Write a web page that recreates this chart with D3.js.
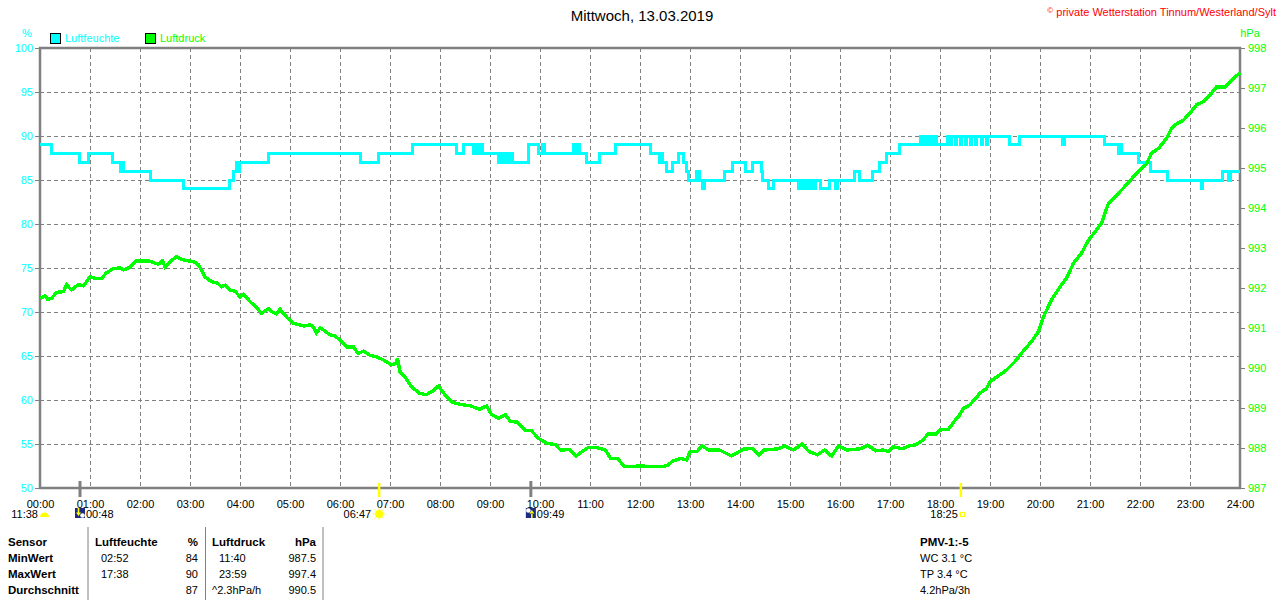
<!DOCTYPE html>
<html>
<head>
<meta charset="utf-8">
<script src="https://cdn.jsdelivr.net/npm/d3@7"></script>
<style>
  body { margin: 0; background: #fff; }
  svg { display: block; font-family: "Liberation Sans", Arial, sans-serif; }
</style>
</head>
<body>
<div id="chart"></div>
<script>
// hour ticks and axis ticks
let hourLabels = d3.range(0, 25).map(h => (h < 10 ? "0" + h : "" + h) + ":00");
let humidityTicks = [50, 55, 60, 65, 70, 75, 80, 85, 90, 95, 100];
let pressureTicks = [987, 988, 989, 990, 991, 992, 993, 994, 995, 996, 997, 998];

// Luftfeuchte (%), step changes: time in hours, value from that time on
let humidityTimes = [0, 0.23, 0.79, 0.96, 1.44, 1.6, 1.63, 1.67, 2.21, 2.87, 3.78, 3.87, 3.92, 3.94, 3.98,
  4.56, 6.41, 6.76, 7.44, 8.32, 8.46, 8.66, 8.7, 8.76, 8.79, 8.85, 9.17, 9.21, 9.26, 9.29, 9.35, 9.38, 9.44,
  9.76, 9.97, 10.05, 10.08, 10.66, 10.7, 10.75, 10.78, 10.93, 11.18, 11.51, 12.2, 12.38, 12.42, 12.44,
  12.52, 12.64, 12.77, 12.87, 12.93, 12.96, 13.12, 13.19, 13.25, 13.29, 13.69, 13.84, 14.11, 14.24,
  14.42, 14.45, 14.57, 14.66, 15.17, 15.2, 15.27, 15.3, 15.37, 15.4, 15.47, 15.5, 15.6, 15.78, 15.91,
  15.94, 16.28, 16.39, 16.64, 16.78, 16.93, 17.18, 17.61, 17.66, 17.69, 17.75, 17.78, 17.84, 17.87, 17.93,
  18.15, 18.2, 18.23, 18.3, 18.33, 18.4, 18.43, 18.5, 18.53, 18.6, 18.63, 18.7, 18.73, 18.82, 18.85, 18.92,
  18.95, 19.39, 19.58, 20.45, 20.49, 21.28, 21.57, 21.6, 21.63, 21.97, 22.2, 22.55, 23.22, 23.25, 23.64,
  23.77, 23.8, 24];
let humidityValues = [89, 88, 87, 88, 87, 86, 87, 86, 85, 84, 85, 86, 87, 86, 87,
  88, 87, 88, 89, 88, 89, 88, 89, 88, 89, 88, 87, 88, 87, 88, 87, 88, 87,
  89, 88, 89, 88, 89, 88, 89, 88, 87, 88, 89, 88, 87, 88, 87,
  86, 87, 88, 87, 86, 85, 86, 85, 84, 85, 86, 87, 86, 87,
  86, 85, 84, 85, 84, 85, 84, 85, 84, 85, 84, 85, 84, 85, 84,
  85, 86, 85, 86, 87, 88, 89, 90, 89, 90, 89, 90, 89, 90, 89,
  90, 89, 90, 89, 90, 89, 90, 89, 90, 89, 90, 89, 90, 89, 90, 89,
  90, 89, 90, 89, 90, 89, 88, 89, 88, 87, 86, 85, 84, 85, 86,
  85, 86, 86];

// Luftdruck (hPa)
let pressureTimes = [0, 0.1, 0.15, 0.23, 0.33, 0.47, 0.53, 0.63, 0.77, 0.87, 1.0, 1.1, 1.23, 1.33, 1.47,
  1.6, 1.67, 1.8, 1.93, 2.17, 2.3, 2.37, 2.45, 2.5, 2.6, 2.73, 2.87, 3.07, 3.17, 3.3, 3.43, 3.55,
  3.63, 3.7, 3.8, 3.9, 4.0, 4.07, 4.2, 4.3, 4.43, 4.57, 4.65, 4.73, 4.8, 4.83, 4.95, 5.07, 5.27,
  5.4, 5.47, 5.53, 5.6, 5.67, 5.8, 5.9, 6.0, 6.13, 6.27, 6.33, 6.37, 6.47, 6.6, 6.73, 6.87, 7.03,
  7.13, 7.15, 7.2, 7.3, 7.43, 7.59, 7.72, 7.85, 7.97, 8.1, 8.24, 8.41, 8.62, 8.79, 8.93, 9.03, 9.17,
  9.31, 9.41, 9.55, 9.69, 9.83, 9.97, 10.14, 10.31, 10.41, 10.59, 10.72, 10.97, 11.1, 11.31, 11.41,
  11.55, 11.69, 12.0, 12.41, 12.55, 12.66, 12.83, 12.93, 13.0, 13.14, 13.24, 13.38, 13.59, 13.83,
  13.93, 14.07, 14.24, 14.38, 14.48, 14.59, 14.76, 14.9, 15.07, 15.24, 15.38, 15.55, 15.69, 15.83,
  15.97, 16.14, 16.41, 16.55, 16.72, 16.86, 16.97, 17.07, 17.24, 17.38, 17.52, 17.66, 17.76, 17.93,
  18.0, 18.17, 18.28, 18.38, 18.47, 18.6, 18.8, 18.93, 19.0, 19.2, 19.33, 19.5, 19.63, 19.83, 19.97,
  20.07, 20.23, 20.43, 20.53, 20.67, 20.83, 20.97, 21.13, 21.23, 21.37, 21.57, 21.73, 21.93, 22.13,
  22.23, 22.37, 22.53, 22.63, 22.73, 22.87, 23.0, 23.13, 23.27, 23.43, 23.53, 23.7, 23.8, 23.87, 24.0];
let pressureValues = [991.74, 991.8, 991.72, 991.74, 991.89, 991.91, 992.08, 991.95, 992.09, 992.05, 992.28, 992.24, 992.24, 992.38, 992.49,
  992.5, 992.45, 992.52, 992.68, 992.68, 992.62, 992.6, 992.68, 992.53, 992.66, 992.78, 992.7, 992.66, 992.58, 992.28, 992.16, 992.12,
  992.03, 992.07, 991.95, 991.92, 991.78, 991.85, 991.66, 991.55, 991.37, 991.48, 991.4, 991.35, 991.47, 991.42, 991.25, 991.12, 991.05,
  991.08, 991.02, 990.88, 991.0, 990.95, 990.83, 990.8, 990.7, 990.53, 990.53, 990.42, 990.37, 990.42, 990.32, 990.28, 990.2, 990.08,
  990.12, 990.25, 989.91, 989.78, 989.53, 989.37, 989.33, 989.42, 989.55, 989.33, 989.14, 989.09, 989.05, 988.97, 989.05, 988.84, 988.74,
  988.83, 988.66, 988.65, 988.45, 988.43, 988.24, 988.12, 988.08, 987.95, 987.96, 987.8, 988.02, 988.02, 987.95, 987.74,
  987.74, 987.53, 987.55, 987.53, 987.56, 987.68, 987.74, 987.7, 987.91, 987.91, 988.05, 987.95, 987.95, 987.8,
  987.87, 987.97, 987.99, 987.83, 987.95, 987.96, 987.98, 988.05, 987.95, 988.1, 987.91, 987.83, 987.95, 987.8,
  988.05, 987.95, 987.98, 988.07, 987.93, 987.95, 987.91, 988.03, 987.98, 988.05, 988.08, 988.2, 988.35, 988.35,
  988.45, 988.47, 988.66, 988.8, 988.99, 989.08, 989.37, 989.49, 989.66, 989.83, 989.95, 990.16, 990.37, 990.66, 990.91,
  991.28, 991.7, 992.08, 992.24, 992.62, 992.87, 993.2, 993.45, 993.62, 994.12, 994.37, 994.58, 994.87, 995.1,
  995.37, 995.49, 995.74, 995.99, 996.1, 996.2, 996.37, 996.58, 996.66, 996.87, 997.03, 997.03, 997.16, 997.24, 997.38];

// sun / moon events below the axis
let eventTimes = [0.8, 6.783, 9.817, 18.417];
let eventLabels = ["00:48", "06:47", "09:49", "18:25"];
let eventKinds = ["moonset", "sunrise", "moonrise", "sunset"];

// statistics table
let tableRows = ["Sensor", "MinWert", "MaxWert", "Durchschnitt"];
let humidityCol = [["Luftfeuchte", "%"], ["02:52", "84"], ["17:38", "90"], ["", "87"]];
let pressureCol = [["Luftdruck", "hPa"], ["11:40", "987.5"], ["23:59", "997.4"], ["^2.3hPa/h", "990.5"]];
let extraInfo = ["PMV-1:-5", "WC 3.1 °C", "TP 3.4 °C", "4.2hPa/3h"];

function draw_chart() {
    let W = 1280, H = 600;
    let grey = "#808080", cyan = "#00ffff", green = "#00ff00";

    let svg = d3.select("#chart").append("svg")
        .attr("width", W).attr("height", H);

    let x = d3.scaleLinear().domain([0, 24]).range([40, 1240]);
    let yH = d3.scaleLinear().domain([50, 100]).range([488, 48]);
    let yP = d3.scaleLinear().domain([987, 998]).range([488, 48]);

    // title + copyright
    svg.append("text").attr("x", 642).attr("y", 21).attr("text-anchor", "middle")
        .style("font-size", "15px").text("Mittwoch, 13.03.2019");
    svg.append("text").attr("x", 1276).attr("y", 16).attr("text-anchor", "end")
        .style("font-size", "11px").attr("fill", "#ff0000")
        .html('<tspan font-size="8px" dy="-3">©</tspan><tspan dy="3"> private Wetterstation Tinnum/Westerland/Sylt</tspan>');

    // legend
    let legend = [["Luftfeuchte", cyan, 50], ["Luftdruck", green, 145]];
    legend.forEach(function (l) {
        svg.append("rect").attr("x", l[2] + 0.5).attr("y", 33.5).attr("width", 10).attr("height", 10)
            .attr("fill", l[1]).attr("stroke", "#000");
        svg.append("text").attr("x", l[2] + 15).attr("y", 42).attr("fill", l[1])
            .style("font-size", "11px").text(l[0]);
    });
    svg.append("text").attr("x", 27).attr("y", 37).attr("text-anchor", "middle")
        .attr("fill", cyan).style("font-size", "11px").text("%");
    svg.append("text").attr("x", 1250).attr("y", 37).attr("text-anchor", "middle")
        .attr("fill", green).style("font-size", "11px").text("hPa");

    // grid
    let grid = svg.append("g").attr("stroke", grey).attr("stroke-dasharray", "4,3")
        .attr("shape-rendering", "crispEdges");
    grid.selectAll(".vg").data(d3.range(1, 24)).enter().append("line")
        .attr("x1", d => x(d) + 0.5).attr("x2", d => x(d) + 0.5)
        .attr("y1", 48).attr("y2", 488);
    grid.selectAll(".hg").data(humidityTicks.slice(1, -1)).enter().append("line")
        .attr("x1", 40).attr("x2", 1240)
        .attr("y1", d => yH(d) + 0.5).attr("y2", d => yH(d) + 0.5);

    // axes
    let leftAxis = svg.append("g").attr("transform", "translate(40,0)")
        .call(d3.axisLeft(yH).tickValues(humidityTicks).tickSize(5).tickPadding(2));
    leftAxis.select(".domain").remove();
    leftAxis.selectAll("line").attr("stroke", grey);
    leftAxis.selectAll("text").attr("fill", cyan).style("font-size", "11px")
        .style("font-family", "Liberation Sans, Arial, sans-serif");

    let rightAxis = svg.append("g").attr("transform", "translate(1240,0)")
        .call(d3.axisRight(yP).tickValues(pressureTicks).tickSize(5).tickPadding(3).tickFormat(d3.format("d")));
    rightAxis.select(".domain").remove();
    rightAxis.selectAll("line").attr("stroke", grey);
    rightAxis.selectAll("text").attr("fill", green).style("font-size", "11px")
        .style("font-family", "Liberation Sans, Arial, sans-serif");

    let bottomAxis = svg.append("g").attr("transform", "translate(0,488)")
        .call(d3.axisBottom(x).tickValues(d3.range(0, 25)).tickSize(0).tickPadding(12)
            .tickFormat((d, i) => hourLabels[i]));
    bottomAxis.select(".domain").remove();
    bottomAxis.selectAll("text").attr("fill", "#000").style("font-size", "11px")
        .style("font-family", "Liberation Sans, Arial, sans-serif");

    // frame
    svg.append("rect").attr("x", 40).attr("y", 48).attr("width", 1200).attr("height", 440)
        .attr("fill", "none").attr("stroke", grey).attr("stroke-width", 2.5);

    // series
    let humLine = d3.line().curve(d3.curveStepAfter)
        .x((d, i) => x(humidityTimes[i])).y(d => yH(d));
    svg.append("path").datum(humidityValues).attr("d", humLine)
        .attr("fill", "none").attr("stroke", cyan).attr("stroke-width", 3)
        .attr("shape-rendering", "crispEdges");

    let presLine = d3.line()
        .x((d, i) => x(pressureTimes[i])).y(d => yP(d));
    svg.append("path").datum(pressureValues).attr("d", presLine)
        .attr("fill", "none").attr("stroke", green).attr("stroke-width", 3.4)
        .attr("shape-rendering", "crispEdges");

    // moon phase marker at start
    svg.append("text").attr("x", 38).attr("y", 518).attr("text-anchor", "end")
        .style("font-size", "11px").text("11:38");
    svg.append("path").attr("d", "M40,517 A4.5,4.5 0 0 1 49,517 Z").attr("fill", "#ffff00");

    // events
    eventTimes.forEach(function (t, i) {
        let ex = x(t), kind = eventKinds[i];
        let moon = kind.indexOf("moon") === 0;
        svg.append("line").attr("x1", ex).attr("x2", ex)
            .attr("y1", moon ? 481 : 483).attr("y2", 497)
            .attr("stroke", moon ? grey : "#ffff00").attr("stroke-width", moon ? 3 : 2.5);
        let label = svg.append("text").attr("y", 518).style("font-size", "11px").text(eventLabels[i]);
        if (kind === "moonset" || kind === "moonrise") {
            svg.append("rect").attr("x", ex - 5).attr("y", 508).attr("width", 10).attr("height", 10)
                .attr("fill", "#1c2a80");
            let up = kind === "moonrise";
            svg.append("circle").attr("cx", up ? ex - 2.5 : ex + 2.5).attr("cy", up ? 510.5 : 515.5)
                .attr("r", 2.3).attr("fill", "#fff");
            let ax = up ? ex + 1 : ex - 1.5;
            svg.append("path")
                .attr("d", up
                    ? `M${ax},510 L${ax - 2.5},513.5 L${ax + 2.5},513.5 Z M${ax - 0.8},513 h1.6 v5 h-1.6 Z`
                    : `M${ax},516 L${ax - 2.5},512.5 L${ax + 2.5},512.5 Z M${ax - 0.8},508 h1.6 v5 h-1.6 Z`)
                .attr("fill", "#ffff00");
            label.attr("x", ex + 6);
        } else if (kind === "sunrise") {
            let g = svg.append("g").attr("transform", `translate(${ex},514)`);
            d3.range(8).forEach(function (k) {
                let a = k * Math.PI / 4;
                g.append("line").attr("x1", Math.cos(a) * 4).attr("y1", Math.sin(a) * 4)
                    .attr("x2", Math.cos(a) * 6.5).attr("y2", Math.sin(a) * 6.5)
                    .attr("stroke", "#ffff66").attr("stroke-width", 1.2);
            });
            g.append("circle").attr("r", 4).attr("fill", "#ffff00");
            label.attr("x", ex - 8).attr("text-anchor", "end");
        } else {
            svg.append("rect").attr("x", ex - 0.5).attr("y", 512.5).attr("width", 4).attr("height", 4)
                .attr("fill", "none").attr("stroke", "#ffff00").attr("stroke-width", 1.2);
            label.attr("x", ex - 3).attr("text-anchor", "end");
        }
    });

    // statistics table
    [88, 205.5, 323].forEach(function (sx) {
        svg.append("line").attr("x1", sx).attr("x2", sx).attr("y1", 527).attr("y2", 600)
            .attr("stroke", grey).attr("stroke-width", 1);
    });
    let rowY = [546, 562, 578, 594];
    tableRows.forEach(function (r, i) {
        svg.append("text").attr("x", 8).attr("y", rowY[i]).style("font-size", "11.5px")
            .style("font-weight", "bold").text(r);
    });
    humidityCol.forEach(function (c, i) {
        let bold = i === 0 ? "bold" : "normal";
        svg.append("text").attr("x", i === 0 ? 95 : 101).attr("y", rowY[i])
            .style("font-size", i === 0 ? "11.5px" : "11px")
            .style("font-weight", bold).text(c[0]);
        svg.append("text").attr("x", 198).attr("y", rowY[i]).attr("text-anchor", "end")
            .style("font-size", i === 0 ? "11.5px" : "11px").style("font-weight", bold).text(c[1]);
    });
    pressureCol.forEach(function (c, i) {
        let bold = i === 0 ? "bold" : "normal";
        svg.append("text").attr("x", (i === 0 || i === 3) ? 212 : 219).attr("y", rowY[i])
            .style("font-size", i === 0 ? "11.5px" : "11px").style("font-weight", bold).text(c[0]);
        svg.append("text").attr("x", 316).attr("y", rowY[i]).attr("text-anchor", "end")
            .style("font-size", i === 0 ? "11.5px" : "11px").style("font-weight", bold).text(c[1]);
    });
    extraInfo.forEach(function (t, i) {
        svg.append("text").attr("x", 920).attr("y", rowY[i])
            .style("font-size", i === 0 ? "11.5px" : "11px")
            .style("font-weight", i === 0 ? "bold" : "normal").text(t);
    });
}

draw_chart();
</script>
</body>
</html>
